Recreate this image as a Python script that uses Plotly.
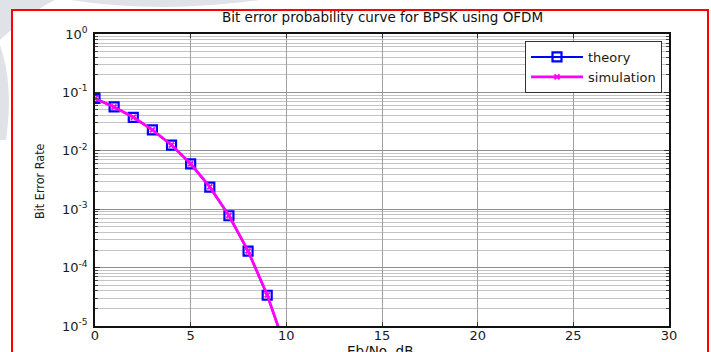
import plotly.graph_objects as go

# ---- data ----
ebno_db = [0, 1, 2, 3, 4, 5, 6, 7, 8, 9, 10]
ber_theory = [0.0786, 0.0563, 0.0375, 0.0229, 0.0125, 0.00595, 0.00239, 0.000773, 0.000191, 3.36e-5, 3.87e-6]
ber_sim = [0.0788, 0.0562, 0.0376, 0.0228, 0.0126, 0.00600, 0.00241, 0.000780, 0.000193, 3.40e-5, 3.9e-6]
x_ticks = [0, 5, 10, 15, 20, 25, 30]
y_ticks = [1e-5, 1e-4, 1e-3, 1e-2, 1e-1, 1]
y_ticktext = ["10<sup>-5</sup>", "10<sup>-4</sup>", "10<sup>-3</sup>", "10<sup>-2</sup>", "10<sup>-1</sup>", "10<sup>0</sup>"]
y_minor = [m * d for d in y_ticks[:-1] for m in range(2, 10)]

W, H = 711, 352
L, R, T, B = 95, 669, 34, 326
pw, ph = R - L, B - T


def px(x):
    return (x - L) / pw


def py(y):
    return (B - y) / ph


WIDE = "DejaVu Sans, Verdana, sans-serif"

fig = go.Figure()
fig.add_trace(go.Scatter(
    x=ebno_db, y=ber_theory, name="theory", mode="lines+markers",
    line=dict(color="#0000ff", width=2),
    marker=dict(symbol="square-open", size=9, color="#0000ff", line=dict(width=2.2, color="#0000ff")),
))
fig.add_trace(go.Scatter(
    x=ebno_db, y=ber_sim, name="simulation", mode="lines+markers",
    line=dict(color="#ff00ff", width=2.8),
    marker=dict(symbol="x-thin", size=5, color="#ff00ff", line=dict(width=2, color="#ff00ff")),
))

shapes = []
# faint watermark outside the framed figure
wm = "#dfe3e7"
shapes.append(dict(type="path", xref="paper", yref="paper", layer="below",
                   path=f"M {px(0)},{py(0)} L {px(55)},{py(0)} Q {px(30)},{py(12)} {px(0)},{py(40)} Z",
                   fillcolor=wm, line=dict(width=0)))
shapes.append(dict(type="path", xref="paper", yref="paper", layer="below",
                   path=f"M {px(70)},{py(0)} Q {px(160)},{py(14)} {px(260)},{py(0)} Z",
                   fillcolor=wm, line=dict(width=0)))
shapes.append(dict(type="path", xref="paper", yref="paper", layer="below",
                   path=f"M {px(0)},{py(45)} Q {px(14)},{py(85)} {px(6)},{py(140)} L {px(0)},{py(140)} Z",
                   fillcolor=wm, line=dict(width=0)))
# red frame
shapes.append(dict(type="rect", xref="paper", yref="paper", layer="below",
                   x0=px(12), x1=px(708), y0=py(10), y1=py(400),
                   fillcolor="white", line=dict(color="#ff0000", width=2)))

fig.update_layout(
    width=W, height=H,
    margin=dict(l=L, r=W - R, t=T, b=H - B, autoexpand=False),
    paper_bgcolor="white", plot_bgcolor="white",
    font=dict(family=WIDE, size=13, color="#1a1a1a"),
    showlegend=True,
    legend=dict(x=px(662), xanchor="right", y=py(41), yanchor="top",
                bordercolor="#333", borderwidth=1, bgcolor="white",
                font=dict(family=WIDE, size=13), tracegroupgap=0, itemwidth=52),
    shapes=shapes,
    annotations=[
        dict(text="Bit error probability curve for BPSK using OFDM", xref="paper", yref="paper",
             x=0.5, y=py(17), xanchor="center", yanchor="middle", showarrow=False,
             font=dict(family=WIDE, size=13.5, color="#111")),
        dict(text="Eb/No, dB", xref="paper", yref="paper", x=px(380), y=py(351),
             xanchor="center", yanchor="middle",
             showarrow=False, font=dict(family=WIDE, size=13.5, color="#111")),
        dict(text="Bit Error Rate", xref="paper", yref="paper", x=px(39), y=py(181),
             xanchor="center", yanchor="middle",
             textangle=-90, showarrow=False,
             font=dict(family="DejaVu Sans Condensed, Liberation Sans Narrow, Liberation Sans, Arial",
                       size=12.5, color="#222")),
    ],
)

fig.update_xaxes(
    range=[0, 30], tickvals=x_ticks, ticks="inside", ticklen=4, tickcolor="#333",
    showline=True, linecolor="#111", linewidth=1.5, mirror="allticks",
    showgrid=True, gridcolor="#a0a0a0", gridwidth=1, zeroline=False,
    tickfont=dict(family=WIDE, size=13), ticklabelstandoff=-3, automargin=False,
)
fig.update_yaxes(
    type="log", range=[-5, 0], tickvals=y_ticks, ticktext=y_ticktext,
    ticks="inside", ticklen=5, tickcolor="#333",
    showline=True, linecolor="#111", linewidth=1.5, mirror="allticks",
    showgrid=True, gridcolor="#909090", gridwidth=1, zeroline=False,
    minor=dict(tickmode="array", tickvals=y_minor, showgrid=True, gridcolor="#c4c4c4", gridwidth=1,
               ticks="inside", ticklen=3, tickcolor="#444"),
    tickfont=dict(family=WIDE, size=13), ticklabelstandoff=3, automargin=False,
)

fig.write_html("out.html")
